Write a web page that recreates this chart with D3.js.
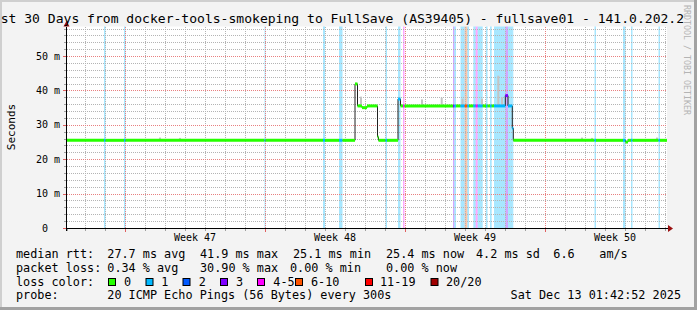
<!DOCTYPE html>
<html><head><meta charset="utf-8">
<script src="https://cdn.jsdelivr.net/npm/d3@7"></script>
<style>html,body{margin:0;padding:0;background:#f3f3f3;} svg{display:block}</style>
</head><body><svg id="c" width="697" height="310"></svg>
<script>
// ---------- DATA ----------
const titleText = "st 30 Days from docker-tools-smokeping to FullSave (AS39405) - fullsave01 - 141.0.202.2";
const yUnitLabel = "Seconds";
const watermark = "RRDTOOL / TOBI OETIKER";
// median rtt segments: start (days since start of window), median (ms), lost pings (of 20)
const segStartDay = [0, 1.85, 1.925, 2.85, 2.925, 9.875, 9.925, 12.8, 12.9, 13.6, 13.775,
  14.4, 14.525, 14.75, 15.0, 15.525, 15.575, 15.925, 16.0, 16.55, 16.675, 16.8, 16.875,
  19.3, 19.365, 19.45, 19.675, 19.885, 20.015, 20.1, 20.315, 20.435, 20.535, 20.785,
  20.95, 21.025, 21.15, 21.235, 21.35, 21.915, 22.05, 22.265, 22.315,
  26.375, 26.45, 27.8, 27.925, 28.05, 28.2, 28.275, 29.575, 29.65];
const segMedianMs = [25.5, 25.5, 25.5, 25.5, 25.5, 25.5, 25.5, 25.5, 25.5, 25.5, 25.5,
  41.9, 35.5, 35.0, 35.5, 26.5, 25.5, 25.5, 25.5, 37.5, 35.5, 35.5, 35.5,
  35.5, 35.5, 35.5, 35.5, 35.5, 35.5, 35.5, 35.5, 35.5, 35.5, 35.5,
  35.5, 35.5, 35.5, 35.5, 35.5, 38.5, 35.5, 29.0, 25.5,
  25.5, 25.5, 25.5, 25.0, 25.5, 25.5, 25.5, 25.5, 25.5];
const segLoss = [0, 1, 0, 1, 0, 1, 0, 1, 0, 1, 0,
  0, 0, 0, 0, 0, 0, 1, 0, 1, 0, 4, 0,
  3, 1, 0, 1, 7, 1, 0, 1, 4, 1, 0,
  1, 0, 1, 0, 1, 3, 1, 1, 0,
  1, 0, 1, 0, 0, 1, 0, 1, 0];
const windowDays = 30;
// smoke (ping spread) spikes: day, highest ping (ms)
const smokeDay = [4.65, 5.65, 14.7, 17.75, 18.735, 19.775, 20.75, 21.565, 21.75, 25.75, 26.25, 29.5];
const smokeTopMs = [26.3, 26.2, 38.2, 37.4, 37.9, 37.6, 37.6, 44.3, 38.0, 26.3, 26.2, 26.3];
// axes
const yMaxMs = 58.6;
const yMajorTicks = [0, 10, 20, 30, 40, 50];
const yTickLabels = ["0", "10 m", "20 m", "30 m", "40 m", "50 m"];
const yMinorStep = 2;
const dayGridFirst = 0.9;
const weekStartDay = [2.9, 9.9, 16.9, 23.9];
const weekLabelDay = [6.4, 13.4, 20.4, 27.4];
const weekLabels = ["Week 47", "Week 48", "Week 49", "Week 50"];
// loss colour legend
const lossLabels = ["0", "1", "2", "3", "4-5", "6-10", "11-19", "20/20"];
const lossUpper = [0, 1, 2, 3, 5, 10, 19, 20];
const lossColors = ["#26ff00", "#00b8ff", "#0059ff", "#7e00ff", "#ff00ff", "#ff5500", "#ff0000", "#a00000"];
// legend texts
const rttRow = ["median rtt:", "27.7 ms avg", "41.9 ms max", "25.1 ms min", "25.4 ms now", "4.2 ms sd", "6.6", "am/s"];
const lossRow = ["packet loss:", "0.34 % avg", "30.90 % max", "0.00 % min", "0.00 % now"];
const probeRow = ["probe:", "20 ICMP Echo Pings (56 Bytes) every 300s"];
const dateText = "Sat Dec 13 01:42:52 2025";

// ---------- LAYOUT ----------
const W = 697, H = 310;
const mono = "'DejaVu Sans Mono', monospace";
const svg = d3.select("#c");
const x = d3.scaleLinear().domain([0, windowDays]).range([67, 667]);
const y = d3.scaleLinear().domain([0, yMaxMs]).range([228, 26.5]);

svg.append("rect").attr("width", W).attr("height", H).attr("fill", "#f3f3f3");
// frame
svg.append("rect").attr("x", 0).attr("y", 0).attr("width", W).attr("height", 2).attr("fill", "#cfcfcf");
svg.append("rect").attr("x", 0).attr("y", 0).attr("width", 2).attr("height", H).attr("fill", "#cfcfcf");
svg.append("rect").attr("x", W - 3).attr("y", 0).attr("width", 3).attr("height", H).attr("fill", "#a2a2a2");
svg.append("rect").attr("x", 0).attr("y", H - 3).attr("width", W).attr("height", 3).attr("fill", "#a2a2a2");

// plot background
svg.append("rect").attr("x", x(0)).attr("y", y(yMaxMs)).attr("width", x(windowDays) - x(0))
  .attr("height", y(0) - y(yMaxMs)).attr("fill", "#ffffff");

const segs = segStartDay.map((s, i) => ({
  s, e: i + 1 < segStartDay.length ? segStartDay[i + 1] : windowDays,
  v: segMedianMs[i], loss: segLoss[i]
}));
const lossIdx = l => lossUpper.findIndex(u => l <= u);

// loss bars
svg.append("g").selectAll("rect").data(segs.filter(d => d.loss > 0)).join("rect")
  .attr("x", d => x(d.s)).attr("width", d => Math.max(1, x(d.e) - x(d.s)))
  .attr("y", y(yMaxMs)).attr("height", y(0) - y(yMaxMs))
  .attr("fill", d => lossColors[lossIdx(d.loss)]).attr("fill-opacity", 0.34);

// grid
const g = svg.append("g").attr("shape-rendering", "crispEdges");
const minorY = d3.range(yMinorStep, yMaxMs, yMinorStep).filter(v => v % 10 !== 0);
const majorY = yMajorTicks.filter(v => v > 0);
g.selectAll(".hm").data(minorY).join("line")
  .attr("x1", x(0)).attr("x2", x(windowDays))
  .attr("y1", d => Math.round(y(d)) + 0.5).attr("y2", d => Math.round(y(d)) + 0.5)
  .attr("stroke", "#b4b4b4").attr("stroke-dasharray", "1,1");
const minorX = d3.range(dayGridFirst, windowDays, 1).filter(d => !weekStartDay.some(w => Math.abs(w - d) < 1e-6));
g.selectAll(".vm").data(minorX).join("line")
  .attr("y1", y(0)).attr("y2", y(yMaxMs))
  .attr("x1", d => Math.round(x(d)) + 0.5).attr("x2", d => Math.round(x(d)) + 0.5)
  .attr("stroke", "#b4b4b4").attr("stroke-dasharray", "1,1");
g.selectAll(".hM").data(majorY).join("line")
  .attr("x1", x(0)).attr("x2", x(windowDays))
  .attr("y1", d => Math.round(y(d)) + 0.5).attr("y2", d => Math.round(y(d)) + 0.5)
  .attr("stroke", "#e88080").attr("stroke-dasharray", "1,1");
g.selectAll(".vM").data(weekStartDay).join("line")
  .attr("y1", y(0)).attr("y2", y(yMaxMs))
  .attr("x1", d => Math.round(x(d)) + 0.5).attr("x2", d => Math.round(x(d)) + 0.5)
  .attr("stroke", "#e88080").attr("stroke-dasharray", "1,1");

// smoke
const medianAt = d => { const s = segs.find(q => d >= q.s && d < q.e); return s ? s.v : 0; };
svg.append("g").selectAll("rect").data(smokeDay.map((d, i) => ({ d, top: smokeTopMs[i] }))).join("rect")
  .attr("x", d => x(d.d) - 1).attr("width", 2)
  .attr("y", d => y(d.top)).attr("height", d => y(medianAt(d.d)) - y(d.top))
  .attr("fill", "#c4c4c4");

// median (thin dark step line)
const stepPts = [];
segs.forEach(d => { stepPts.push([d.s, d.v]); stepPts.push([d.e, d.v]); });
svg.append("path").datum(stepPts)
  .attr("d", d3.line().x(d => x(d[0])).y(d => y(d[1])))
  .attr("fill", "none").attr("stroke", "#202020").attr("stroke-width", 1);
// coloured median by loss
svg.append("g").selectAll("line").data(segs).join("line")
  .attr("x1", d => x(d.s)).attr("x2", d => x(d.e))
  .attr("y1", d => y(d.v)).attr("y2", d => y(d.v))
  .attr("stroke", d => lossColors[lossIdx(d.loss)]).attr("stroke-width", 3);

// axes
const ax = svg.append("g").attr("shape-rendering", "crispEdges");
ax.append("line").attr("x1", 64).attr("x2", x(windowDays) + 1).attr("y1", 228.5).attr("y2", 228.5).attr("stroke", "#000");
ax.append("line").attr("x1", 66.5).attr("x2", 66.5).attr("y1", 231).attr("y2", y(yMaxMs)).attr("stroke", "#000");
ax.selectAll(".ytm").data(yMajorTicks).join("line")
  .attr("x1", 63).attr("x2", 66).attr("y1", d => Math.round(y(d)) + 0.5).attr("y2", d => Math.round(y(d)) + 0.5)
  .attr("stroke", "#e06060");
ax.selectAll(".ytn").data(minorY).join("line")
  .attr("x1", 64).attr("x2", 66).attr("y1", d => Math.round(y(d)) + 0.5).attr("y2", d => Math.round(y(d)) + 0.5)
  .attr("stroke", "#a0a0a0");
ax.selectAll(".xtn").data([0].concat(minorX)).join("line")
  .attr("y1", 229).attr("y2", 231).attr("x1", d => Math.round(x(d)) + 0.5).attr("x2", d => Math.round(x(d)) + 0.5)
  .attr("stroke", "#a0a0a0");
ax.selectAll(".xtM").data(weekStartDay).join("line")
  .attr("y1", 229).attr("y2", 232).attr("x1", d => Math.round(x(d)) + 0.5).attr("x2", d => Math.round(x(d)) + 0.5)
  .attr("stroke", "#e06060");
// arrows
svg.append("path").attr("d", `M${x(windowDays) + 1},225 L${x(windowDays) + 6},228.5 L${x(windowDays) + 1},232 Z`).attr("fill", "#9a1010");
svg.append("path").attr("d", `M63.5,${y(yMaxMs)} L66.5,${y(yMaxMs) - 5.5} L69.5,${y(yMaxMs)} Z`).attr("fill", "#9a1010");

// tick labels
svg.append("g").selectAll("text").data(yMajorTicks).join("text")
  .attr("x", (d, i) => yTickLabels[i].endsWith("m") ? 60 : 48)
  .attr("y", d => y(d) + 3.5).attr("text-anchor", "end")
  .attr("font-family", mono).attr("font-size", 10).attr("fill", "#000")
  .text((d, i) => yTickLabels[i]);
svg.append("g").selectAll("text").data(weekLabelDay).join("text")
  .attr("x", d => x(d)).attr("y", 240.7).attr("text-anchor", "middle")
  .attr("font-family", mono).attr("font-size", 10).attr("fill", "#000")
  .text((d, i) => weekLabels[i]);

// title / unit / watermark
svg.append("text").attr("x", 0.7).attr("y", 23).attr("font-family", mono).attr("font-size", 13.05)
  .attr("fill", "#000").text(titleText);
svg.append("text").attr("transform", "translate(15,127) rotate(-90)").attr("text-anchor", "middle")
  .attr("font-family", mono).attr("font-size", 11).attr("fill", "#000").text(yUnitLabel);
svg.append("text").attr("transform", "translate(684,5) rotate(90)").attr("text-anchor", "start")
  .attr("font-family", mono).attr("font-size", 8.3).attr("fill", "#b4b4b4").text(watermark);

// legend
const lg = svg.append("g").attr("font-family", mono).attr("font-size", 11.8).attr("fill", "#000");
const rttX = [16, 107.3, 200, 293, 386, 476, 553.3, 599.3];
rttRow.forEach((t, i) => lg.append("text").attr("x", rttX[i]).attr("y", 257.7).text(t));
const lossX = [16, 107.3, 200, 290, 386];
lossRow.forEach((t, i) => lg.append("text").attr("x", lossX[i]).attr("y", 271.7).text(t));
lg.append("text").attr("x", 16).attr("y", 285.7).text("loss color:");
const boxX = [108, 145.5, 182.5, 220, 257, 295, 365, 430.5];
const labX = [124, 161.3, 198.7, 236, 273.3, 311, 380, 446];
lossLabels.forEach((t, i) => {
  lg.append("rect").attr("x", boxX[i] + 0.5).attr("y", 278.5).attr("width", 7).attr("height", 7)
    .attr("fill", lossColors[i]).attr("stroke", "#000").attr("stroke-width", 1);
  lg.append("text").attr("x", labX[i]).attr("y", 285.7).text(t);
});
probeRow.forEach((t, i) => lg.append("text").attr("x", [16, 107.3][i]).attr("y", 299.3).text(t));
lg.append("text").attr("x", 681).attr("y", 299.3).attr("text-anchor", "end").text(dateText);
</script>
</body></html>
